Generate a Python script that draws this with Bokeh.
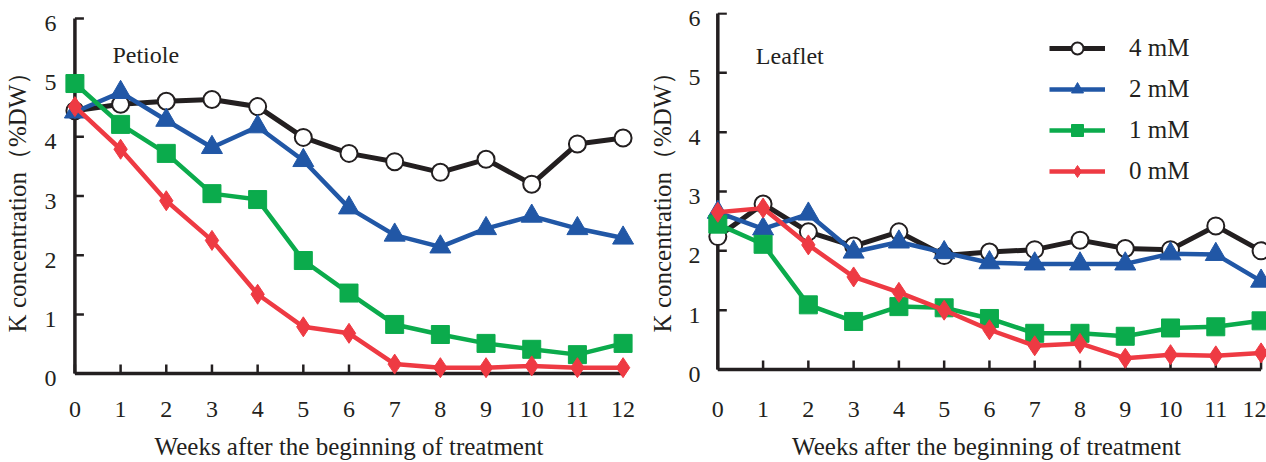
import math
from bokeh.plotting import figure
from bokeh.layouts import row
from bokeh.models import Range1d, FixedTicker, Label, Legend, LegendItem, LinearAxis
from bokeh.embed import file_html
from bokeh.resources import INLINE

# ---------------- data ----------------
weeks = list(range(13))
x_ticks = list(range(13))
y_ticks = [0, 1, 2, 3, 4, 5, 6]
series_labels = ["4 mM", "2 mM", "1 mM", "0 mM"]

petiole_4mM = [4.44, 4.55, 4.60, 4.63, 4.51, 3.99, 3.72, 3.58, 3.40, 3.62, 3.20, 3.88, 3.98]
petiole_2mM = [4.42, 4.75, 4.28, 3.82, 4.17, 3.60, 2.80, 2.34, 2.14, 2.45, 2.66, 2.45, 2.29]
petiole_1mM = [4.90, 4.21, 3.72, 3.04, 2.94, 1.91, 1.36, 0.83, 0.66, 0.51, 0.41, 0.32, 0.51]
petiole_0mM = [4.51, 3.79, 2.92, 2.25, 1.34, 0.79, 0.68, 0.16, 0.10, 0.10, 0.13, 0.10, 0.10]

leaflet_4mM = [2.24, 2.79, 2.32, 2.08, 2.32, 1.92, 1.98, 2.02, 2.18, 2.04, 2.02, 2.42, 2.00]
leaflet_2mM = [2.65, 2.37, 2.62, 1.98, 2.15, 1.97, 1.80, 1.78, 1.78, 1.78, 1.95, 1.94, 1.49]
leaflet_1mM = [2.45, 2.11, 1.09, 0.81, 1.06, 1.04, 0.86, 0.61, 0.61, 0.56, 0.70, 0.72, 0.82]
leaflet_0mM = [2.65, 2.72, 2.10, 1.56, 1.30, 1.00, 0.67, 0.40, 0.44, 0.19, 0.25, 0.23, 0.28]

x_title = "Weeks after the beginning of treatment"
y_title = "K concentration（%DW）"

# ---------------- styles ----------------
FONT = "Liberation Serif"
INK = "#231f20"
styles = [
    dict(color="#231f20", marker="circle", size=17, fill="white", lw=5),
    dict(color="#2157a6", marker="triangle", size=21, fill="#2157a6", lw=4.5),
    dict(color="#0bab4c", marker="square", size=18, fill="#0bab4c", lw=4.5),
    dict(color="#ee3a43", marker="diamond", size=20, fill="#ee3a43", lw=4.5),
]
TICK_PX = 9


def label_axis(ticks, standoff, lab_standoff, title, **kw):
    ax = LinearAxis(ticker=FixedTicker(ticks=ticks), **kw)
    ax.axis_line_color = None
    ax.major_tick_line_color = None
    ax.minor_tick_line_color = None
    ax.major_tick_in = 0
    ax.major_tick_out = 0
    ax.major_label_standoff = standoff
    ax.major_label_text_font = FONT
    ax.major_label_text_font_size = "24px"
    ax.major_label_text_color = INK
    ax.axis_label = title
    ax.axis_label_standoff = lab_standoff
    ax.axis_label_text_font = FONT
    ax.axis_label_text_font_size = "25px"
    ax.axis_label_text_font_style = "normal"
    ax.axis_label_text_color = INK
    return ax


def make_panel(width, mb_left, mb_right, x_end, y_start, y_end, ppu_x, ppu_y, series,
               panel_name, name_pos, x_standoff, y_standoff, xlab_standoff, ylab_standoff,
               legend_loc=None):
    p = figure(width=width, height=462, output_backend="svg", toolbar_location=None,
               x_range=Range1d(-0.25, x_end), y_range=Range1d(y_start, y_end),
               x_axis_type=None, y_axis_type=None,
               min_border_left=mb_left, min_border_right=mb_right,
               min_border_top=12, min_border_bottom=83)
    p.outline_line_color = None
    p.grid.visible = False
    p.background_fill_color = "white"
    p.border_fill_color = "white"

    # tick labels of the y axis sit ~5 px below their ticks in the reference
    d = 5.0 / ppu_y
    p.extra_y_ranges = {"ylab": Range1d(y_start + d, y_end + d)}
    p.add_layout(label_axis(x_ticks, x_standoff, xlab_standoff, x_title), "below")
    p.add_layout(label_axis(y_ticks, y_standoff, ylab_standoff, y_title,
                            y_range_name="ylab"), "left")

    # axis lines and inward ticks
    p.segment(x0=[x_ticks[0]], y0=[0], x1=[x_ticks[-1]], y1=[0],
              line_color=INK, line_width=3.5)
    p.segment(x0=[0], y0=[y_ticks[0]], x1=[0], y1=[y_ticks[-1]],
              line_color=INK, line_width=3.5)
    p.segment(x0=x_ticks, y0=[0] * len(x_ticks), x1=x_ticks,
              y1=[TICK_PX / ppu_y] * len(x_ticks), line_color=INK, line_width=2.5)
    p.segment(x0=[0] * len(y_ticks), y0=y_ticks, x1=[TICK_PX / ppu_x] * len(y_ticks),
              y1=y_ticks, line_color=INK, line_width=2.5)

    items = []
    for lab, ys, st in zip(series_labels, series, styles):
        ln = p.line(weeks, ys, line_color=st["color"], line_width=st["lw"])
        sc = p.scatter(weeks, ys, marker=st["marker"], size=st["size"],
                       fill_color=st["fill"], line_color=st["color"],
                       line_width=2 if st["fill"] == "white" else 1)
        items.append(LegendItem(label=lab, renderers=[ln, sc]))

    if legend_loc is not None:
        lg = Legend(items=items, location=legend_loc, glyph_width=56, glyph_height=30,
                    label_height=30, spacing=11, label_standoff=24, padding=10, margin=0,
                    label_text_font=FONT, label_text_font_size="25px",
                    label_text_color=INK, label_text_baseline="middle",
                    border_line_color=None, background_fill_alpha=0)
        p.add_layout(lg, "center")

    p.add_layout(Label(x=name_pos[0], y=name_pos[1], text=panel_name, text_font=FONT,
                       text_font_size="24px", text_color=INK, text_align="left",
                       text_baseline="middle"))
    return p


# left: frame x 63..634, y 12..379 ; right: frame x 706..1266, y 12..379
left = make_panel(640, 63, 6, 12.25, -0.1, 6.1, 45.68, 59.19,
                  [petiole_4mM, petiole_2mM, petiole_1mM, petiole_0mM],
                  "Petiole", (0.82, 5.39), 22, 7, 13, 11)
right = make_panel(626, 66, 0, 12.12, -0.1685, 6.017, 45.27, 59.33,
                   [leaflet_4mM, leaflet_2mM, leaflet_1mM, leaflet_0mM],
                   "Leaflet", (0.84, 5.29), 22, 6, 13, 10, legend_loc=(343, 193))

layout = row(left, right)
open("out.html", "w").write(file_html(layout, INLINE))
